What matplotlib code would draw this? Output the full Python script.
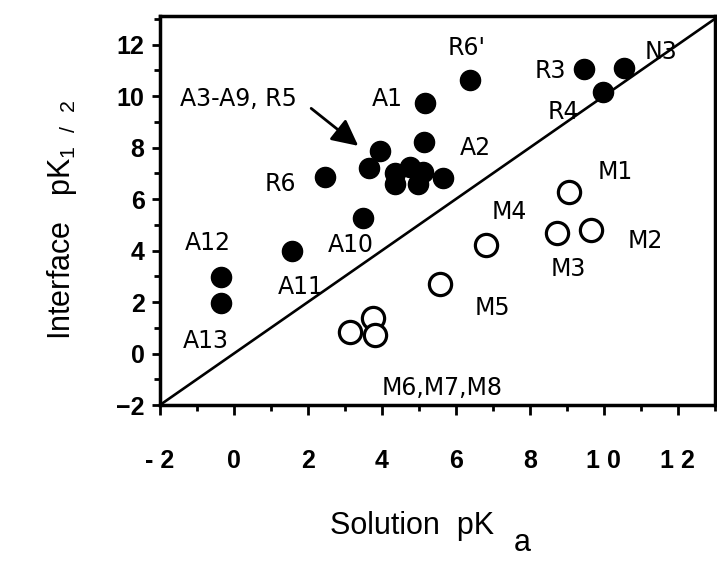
import matplotlib
matplotlib.use("Agg")
import matplotlib.pyplot as plt
from matplotlib.ticker import MultipleLocator

plt.rcParams["font.family"] = ["Liberation Sans", "DejaVu Sans"]
plt.rcParams["mathtext.fontset"] = "custom"
plt.rcParams["mathtext.rm"] = "Liberation Sans"

# filled circles: compounds above the line
filled_x = [5.16, 5.13, 6.39, 9.47, 10.55, 9.98, 2.45, 3.50, 1.58, -0.36, -0.36,
            3.95, 3.66, 4.35, 4.76, 5.11, 4.35, 4.98, 5.65]
filled_y = [9.74, 8.22, 10.63, 11.04, 11.10, 10.17, 6.86, 5.26, 3.99, 2.96, 1.95,
            7.85, 7.19, 7.01, 7.25, 7.06, 6.57, 6.57, 6.81]

# open circles: M series
open_x = [9.06, 9.65, 8.73, 6.81, 5.56, 3.15, 3.75, 3.82]
open_y = [6.28, 4.79, 4.70, 4.23, 2.71, 0.84, 1.40, 0.72]

# reference line y = x
line_x = [-2, 13.2]
line_y = [-2, 13.2]

labels = ["A3-A9, R5", "A1", "R6'", "R3", "N3", "R4", "A2", "R6", "A10", "A12",
          "A11", "A13", "M1", "M4", "M2", "M3", "M5", "M6,M7,M8"]
label_x = [0.13, 4.16, 6.3, 8.55, 11.54, 8.9, 6.54, 1.27, 3.15, -0.7,
           1.8, -0.75, 10.3, 7.44, 11.13, 9.05, 7.0, 5.64]
label_y = [9.9, 9.9, 11.85, 10.98, 11.73, 9.38, 8.0, 6.57, 4.23, 4.3,
           2.57, 0.5, 7.05, 5.5, 4.39, 3.27, 1.78, -1.33]

xticks = [-2, 0, 2, 4, 6, 8, 10, 12]
xtick_labels = ["- 2", "0", "2", "4", "6", "8", "1 0", "1 2"]
yticks = [-2, 0, 2, 4, 6, 8, 10, 12]

fig = plt.figure(figsize=(7.17, 5.61), dpi=100)
ax = fig.add_axes([0.223, 0.278, 0.774, 0.693])

ax.plot(line_x, line_y, color="black", lw=1.9, zorder=1)
ax.plot(filled_x, filled_y, "o", color="black", markersize=14.5, zorder=3)
ax.plot(open_x, open_y, "o", markerfacecolor="white", markeredgecolor="black",
        markersize=16, markeredgewidth=2.3, zorder=3)

for t, x, y in zip(labels, label_x, label_y):
    ax.text(x, y, t, fontsize=17, family="DejaVu Sans",
            ha="center", va="center", zorder=4)

ax.annotate("", xy=(3.42, 8.0), xytext=(2.03, 9.59),
            arrowprops={"arrowstyle": "-|>,head_length=0.8,head_width=0.4",
                        "color": "black", "lw": 2, "mutation_scale": 20})

ax.set_xlim(-2, 13.0)
ax.set_ylim(-2, 13.1)
ax.set_xticks(xticks)
ax.set_xticklabels(xtick_labels)
ax.set_yticks(yticks)
ax.xaxis.set_minor_locator(MultipleLocator(1))
ax.yaxis.set_minor_locator(MultipleLocator(1))
ax.tick_params(axis="x", which="major", direction="out", length=7, width=2,
               labelsize=18, pad=25)
ax.tick_params(axis="y", which="major", direction="out", length=6, width=2,
               labelsize=18, pad=5)
ax.tick_params(which="minor", direction="out", length=4.5, width=2)
for lab in ax.get_xticklabels() + ax.get_yticklabels():
    lab.set_fontweight("bold")
for s in ax.spines.values():
    s.set_linewidth(2.5)

fig.text(62 / 717, 0.608, r"Interface   pK$_{\mathrm{1\ \ /\ \ 2}}$", fontsize=22,
         rotation=90, ha="center", va="center")
fig.text(412 / 717, 0.062, "Solution  pK", fontsize=22, ha="center", va="center")
fig.text(522 / 717, 0.006, "a", fontsize=22, ha="center", va="bottom")

fig.savefig("out.png", dpi=100)
